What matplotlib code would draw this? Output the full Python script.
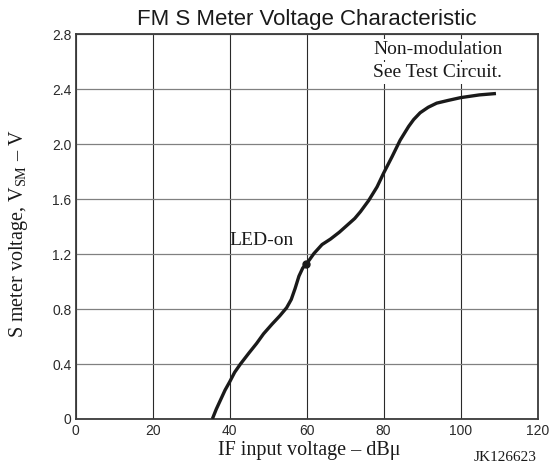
import matplotlib
matplotlib.use("Agg")
import matplotlib.pyplot as plt

# IF input voltage (dBu) vs S meter voltage (V)
if_input = [35.5, 36.5, 37.6, 38.8, 40.0, 41.3, 42.8, 45.0, 47.0, 48.8, 51.0, 53.0,
            54.8, 56.0, 57.0, 58.0, 59.0, 60.0, 61.9, 64.0, 66.2, 68.5, 70.5, 72.5,
            74.0, 76.1, 78.3, 80.0, 82.2, 84.3, 86.5, 87.8, 89.5, 91.6, 93.8, 96.8,
            100.0, 104.9, 109.2]
s_meter = [0.0, 0.07, 0.137, 0.21, 0.27, 0.34, 0.40, 0.48, 0.55, 0.62, 0.69, 0.75,
           0.81, 0.87, 0.95, 1.04, 1.10, 1.13, 1.205, 1.27, 1.31, 1.36, 1.41, 1.46,
           1.51, 1.59, 1.69, 1.79, 1.91, 2.03, 2.13, 2.18, 2.23, 2.27, 2.30, 2.32,
           2.34, 2.36, 2.37]
led_on = (59.9, 1.13)

x_ticks = [0, 20, 40, 60, 80, 100, 120]
y_ticks = [0, 0.4, 0.8, 1.2, 1.6, 2.0, 2.4, 2.8]
y_labels = ["0", "0.4", "0.8", "1.2", "1.6", "2.0", "2.4", "2.8"]

SANS = "Liberation Sans"
SERIF = "Liberation Serif"
INK = "#1a1a1a"
plt.rcParams["mathtext.fontset"] = "custom"
plt.rcParams["mathtext.rm"] = SERIF

fig = plt.figure(figsize=(5.53, 4.66), dpi=100, facecolor="white")
ax = fig.add_axes([0.137, 0.101, 0.835, 0.825])
ax.set_xlim(0, 120)
ax.set_ylim(0, 2.8)

ax.set_xticks(x_ticks)
ax.set_yticks(y_ticks)
ax.set_yticklabels(y_labels)
ax.tick_params(length=0, labelsize=10, labelcolor="#2a2a2a")
ax.tick_params(axis="x", pad=4)
ax.tick_params(axis="y", pad=3)
for lab in ax.get_xticklabels() + ax.get_yticklabels():
    lab.set_family(SANS)

ax.grid(axis="x", color="#2a2a2a", linewidth=0.8)
ax.grid(axis="y", color="#808080", linewidth=0.9)
for s in ax.spines.values():
    s.set_linewidth(1.3)
    s.set_color("#3a3a3a")

ax.plot(if_input, s_meter, color=INK, linewidth=2.4,
        solid_joinstyle="round", solid_capstyle="butt", zorder=3)
ax.plot([led_on[0]], [led_on[1]], "o", color=INK, markersize=5, zorder=4)

ax.text(40, 1.30, "LED-on", family=SERIF, fontsize=14, va="center", ha="left", color=INK)
box = dict(facecolor="white", edgecolor="none", pad=1.5)
ax.text(77.3, 2.69, "Non-modulation", family=SERIF, fontsize=14, va="center",
        ha="left", color=INK, bbox=box, zorder=5)
ax.text(77.3, 2.52, "See Test Circuit.", family=SERIF, fontsize=14, va="center",
        ha="left", color=INK, bbox=box, zorder=5)

fig.text(0.5545, 0.947, "FM S Meter Voltage Characteristic", family=SANS,
         fontsize=16, ha="center", va="baseline", color=INK)
fig.text(0.5588, 0.0236, "IF input voltage – dBμ", family=SERIF, fontsize=14.5,
         ha="center", va="baseline", color=INK)
fig.text(0.033, 0.499, r"S meter voltage, V$_{\mathrm{SM}}$ – V", family=SERIF,
         fontsize=14.5, rotation=90, ha="center", va="center", color=INK)

fig.text(0.971, 0.0097, "JK126623", family=SERIF, fontsize=11, ha="right",
         va="baseline", color=INK)

fig.savefig("out.png", dpi=100, facecolor="white")
